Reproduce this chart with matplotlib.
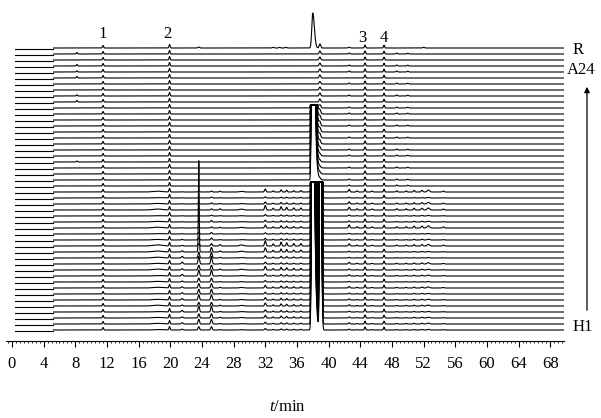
import numpy as np
import matplotlib
from matplotlib import pyplot as plt

plt.rcParams['font.family'] = 'Liberation Serif'
plt.rcParams['mathtext.fontset'] = 'custom'
plt.rcParams['mathtext.it'] = 'Liberation Serif:italic'
plt.rcParams['mathtext.rm'] = 'Liberation Serif'

# 48 stacked traces: R on top, then A24..A1, then the H samples down to H1
n_rows = 48
row_gap = 6.0
top_base = 293.0

# peaks seen in every trace (labelled 1-4)
common_t = [11.5, 19.9, 44.6, 47.0]
common_h = [2.5, 3.5, 3.0, 2.8]
label_t = [11.5, 19.6, 44.2, 46.9]
label_txt = ['1', '2', '3', '4']

# reference trace R
r_t = [23.6, 33.0, 33.8, 34.6, 38.0, 38.9, 42.6, 52.0]
r_h = [1.0, 0.7, 0.7, 0.7, 35.0, 4.0, 0.8, 0.7]

# A rows (rows 1..23)
a_peak8 = [1.5, 0, 1.5, 1.2, 1.5, 0, 0, 1.2, 1.5, 0, 0, 0, 0, 0, 0, 0, 0, 0, 1.0, 0, 0, 0, 0]
a_peak39 = [3, 3, 3, 3, 3, 2.5, 3, 3, 3, 3.5, 3.5, 3.5, 3.5, 3.5, 3.5, 3, 2, 1.5, 1, 1, 1, 1, 1]
a_minor = [1, 0, 1, 1, 0, 1, 0, 1, 0, 1, 1, 0, 1, 0, 1, 0, 1, 1, 0, 1, 0, 1, 1]
a_minor_t = [42.6, 48.6, 50.0]
a_minor_h = [1.0, 1.0, 0.8]

# H rows (rows 24..47): one pattern, scaled per row in three parts
h_t = [18.4, 21.5, 23.6, 25.2, 26.3, 29.0, 32.0, 33.0, 34.0, 34.7, 35.6, 36.5,
       42.6, 43.6, 45.5, 48.6, 49.8, 50.8, 51.8, 52.6, 54.5]
h_h = [0.8, 0.8, 3.0, 3.0, 0.8, 0.6, 3.0, 1.2, 2.2, 1.8, 1.4, 1.4,
       2.2, 1.0, 0.8, 1.0, 1.0, 1.4, 1.4, 1.6, 0.8]
h_w = [0.6, 0.1, 0.09, 0.09, 0.09, 0.25, 0.09, 0.08, 0.08, 0.08, 0.08, 0.08,
       0.09, 0.08, 0.1, 0.08, 0.08, 0.08, 0.1, 0.15, 0.1]
h_part = [0, 1, 1, 1, 2, 2, 2, 2, 2, 2, 2, 2, 3, 3, 3, 3, 3, 3, 3, 3, 3]
h_hump = [1.0, 0.5, 0.7, 1.2, 0.4, 0.8, 1.0, 0.5, 0.7, 1.4, 1.2, 1.0,
          0.8, 1.1, 0.6, 0.8, 0.9, 0.4, 0.8, 1.0, 0.6, 0.7, 0.8, 0.6]
h_early = [0.3, 0.3, 0.4, 0.4, 0.3, 0.5, 0.4, 0.5, 0.7, 0.8, 1.5, 2.0,
           2.5, 1.6, 2.0, 1.3, 1.5, 1.6, 1.8, 1.2, 2.0, 1.4, 1.6, 1.1]
h_mid = [1.0, 0.4, 0.7, 1.5, 0.5, 0.6, 1.0, 0.4, 0.6, 1.8, 1.4, 0.8,
         0.6, 1.2, 0.7, 0.5, 0.9, 0.6, 0.8, 1.0, 0.7, 0.9, 0.6, 0.5]
h_late = [1.2, 0.3, 1.0, 1.3, 0.4, 0.5, 1.4, 0.3, 0.5, 1.0, 0.4, 0.3,
          0.8, 0.5, 0.6, 0.3, 0.7, 0.4, 0.5, 0.6, 0.4, 0.5, 0.6, 0.4]

# overloaded peaks (cut flat at a fixed level of the plot)
big1_t, big1_row, big1_clip = 38.0, 10, 236.0
big2_t, big2_row, big2_clip = 38.95, 23, 159.0
tall_t, tall_row, tall_h = 23.6, 34, 87.0


def peak(t, t0, h, sl, sr=None):
    if sr is None:
        sr = sl
    s = np.where(t < t0, sl, sr)
    return h * np.exp(-0.5 * ((t - t0) / s) ** 2)


def tailed(t, t0, h, sl, tau):
    left = h * np.exp(-0.5 * ((t - t0) / sl) ** 2)
    right = h * np.exp(-np.clip(t - t0, 0, None) / tau)
    return np.where(t < t0, left, right)


t = np.linspace(5.25, 69.7, 8000)
t_left = np.array([0.4, 5.15])
win = (t > 36.5) & (t < 41)

fig = plt.figure(figsize=(6.01, 4.18), dpi=100)
ax = fig.add_axes([5.66 / 601, 77 / 418, 558.0 / 601, 341 / 418])

for i in range(n_rows):
    base = top_base - row_gap * i
    y = np.full_like(t, base)
    for tc, hc in zip(common_t, common_h):
        y += peak(t, tc, hc, 0.07)
    if i == 0:
        for tc, hc in zip(r_t, r_h):
            y += peak(t, tc, hc, 0.12 if hc > 10 else 0.1, 0.2 if hc > 10 else 0.1)
    elif i < 24:
        k = i - 1
        y += peak(t, 8.2, a_peak8[k], 0.07)
        y += peak(t, 38.9, a_peak39[k], 0.1)
        for tc, hc in zip(a_minor_t, a_minor_h):
            y += peak(t, tc, hc * a_minor[k], 0.08)
    else:
        k = i - 24
        scales = [h_hump[k], h_early[k], h_mid[k], h_late[k]]
        for tc, hc, w, p in zip(h_t, h_h, h_w, h_part):
            y += peak(t, tc, hc * scales[p], w)
    if i == tall_row:
        y += peak(t, tall_t, tall_h, 0.05)
    if i >= big1_row:
        y[win] = np.minimum(y[win] + tailed(t[win], big1_t, 900, 0.1, 0.14), big1_clip)
    if i >= big2_row:
        y[win] = np.minimum(y[win] + peak(t[win], big2_t, 400, 0.08, 0.12), big2_clip)
    ax.plot(t, y, color='black', lw=0.8)
    ax.plot(t_left, [base - 1, base - 1], color='black', lw=0.8)

ax.set_xlim(-0.8, 69.7)
ax.set_ylim(0, 341)
ax.set_xticks(np.arange(0, 69, 4))
ax.xaxis.set_minor_locator(matplotlib.ticker.MultipleLocator(0.5))
ax.tick_params(axis='x', which='major', length=4, width=0.8, pad=7, labelsize=12)
ax.tick_params(axis='x', which='minor', length=1.5, width=0.6)
ax.set_yticks([])
for s in ['left', 'right', 'top']:
    ax.spines[s].set_visible(False)
ax.spines['bottom'].set_linewidth(0.8)

for tl, lt in zip(label_t, label_txt):
    px = 12 + tl * 7.926
    fig.text(px / 601, 1 - 34 / 418 if lt in '12' else 1 - 38 / 418, lt,
             ha='center', va='center', fontsize=12)

fig.text(573 / 601, 1 - 50 / 418, 'R', ha='left', va='center', fontsize=12)
fig.text(567 / 601, 1 - 70 / 418, 'A24', ha='left', va='center', fontsize=12)
fig.text(573 / 601, 1 - 327 / 418, 'H1', ha='left', va='center', fontsize=12)
plt.annotate('', xy=(587 / 601, 1 - 84 / 418), xytext=(587 / 601, 1 - 313 / 418),
             xycoords='figure fraction', textcoords='figure fraction',
             arrowprops=dict(arrowstyle='-|>', lw=0.9, color='black', mutation_scale=8))
fig.text(287 / 601, 1 - 407 / 418, '$t$/min', ha='center', va='center', fontsize=12)

plt.savefig('out.png', dpi=100)
